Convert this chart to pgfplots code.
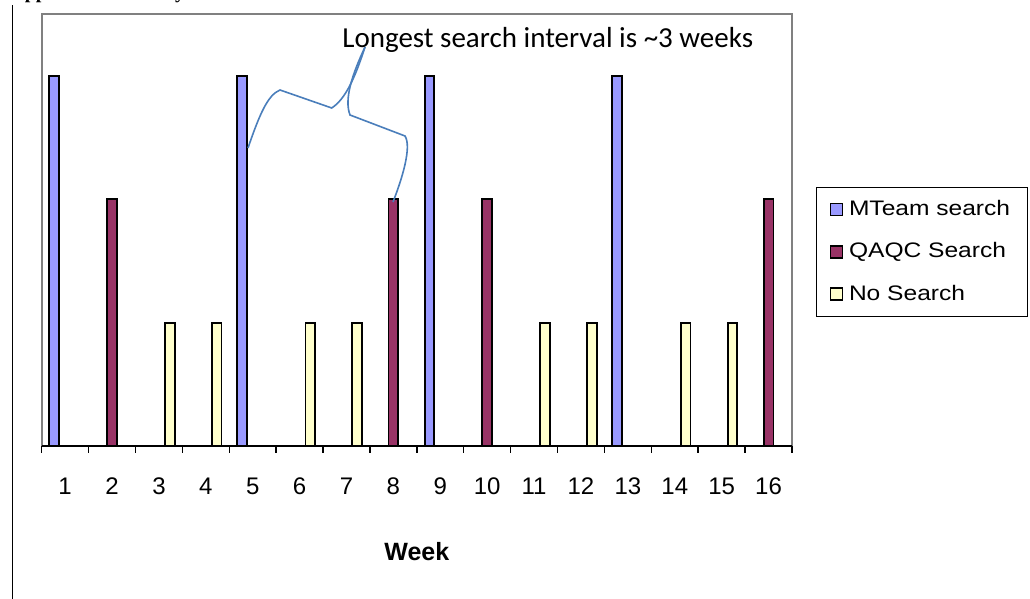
\documentclass[border=0pt]{standalone}
\usepackage{fontspec}
\setmainfont{Liberation Sans}
\newfontfamily\calib{Carlito}
\newfontfamily\serifb{Liberation Serif}
\newfontfamily\legfont[FakeStretch=1.17]{Liberation Sans}
\usepackage{pgfplots}
\pgfplotsset{compat=1.18}
\definecolor{mteam}{HTML}{9999FF}
\definecolor{qaqc}{HTML}{993366}
\definecolor{nosearch}{HTML}{FFFFCC}
\definecolor{callout}{HTML}{4A7EBB}
\definecolor{framegray}{HTML}{808080}
\begin{document}
\begin{tikzpicture}[x=1pt,y=1pt]
\begin{axis}[
  at={(20.85pt,76.5pt)}, anchor=south west,
  width=375.15pt, height=216pt, scale only axis,
  xmin=0.5, xmax=16.5, ymin=0, ymax=3.5,
  ybar, bar width=4.9pt,
  axis line style={draw=none},
  ytick=\empty,
  xtick={1,2,3,4,5,6,7,8,9,10,11,12,13,14,15,16},
  xticklabels={1,2,3,4,5,6,7,8,9,10,11,12,13,14,15,16},
  major tick length=0pt,
  minor xtick={0.5,1.5,2.5,3.5,4.5,5.5,6.5,7.5,8.5,9.5,10.5,11.5,12.5,13.5,14.5,15.5,16.5},
  minor tick length=3.5pt,
  tick align=outside, xtick pos=bottom,
  tick style={black, line width=0.75pt},
  xticklabel style={font=\fontsize{12}{14}\selectfont, anchor=base, yshift=-24.5pt},
  xlabel={Week},
  xlabel style={font=\bfseries\fontsize{12.5}{15}\selectfont, at={(axis description cs:0.5,-0.264)}, anchor=base},
  legend style={at={(1.032,0.5995)}, anchor=north west, draw=black, line width=0.5pt,
    inner xsep=6.5pt, inner ysep=4.5pt, row sep=8pt,
    font=\legfont\fontsize{10.5}{12.6}\selectfont, cells={anchor=west}},
  legend cell align=left,
  legend image code/.code={\draw[#1, line width=0.75pt] (0pt,-3pt) rectangle (6pt,3pt);},
  clip=false,
  /pgf/number format/assume math mode=true,
]
\addplot[fill=mteam, draw=black, line width=0.95pt, bar shift=-5.4pt] coordinates {(1,3) (5,3) (9,3) (13,3)};
\addlegendentry{\hspace{1pt}MTeam search}
\addplot[fill=qaqc, draw=black, line width=0.95pt, bar shift=0pt] coordinates {(2,2) (8,2) (10,2) (16,2)};
\addlegendentry{\hspace{1pt}QAQC Search}
\addplot[fill=nosearch, draw=black, line width=0.95pt, bar shift=5.4pt] coordinates {(3,1) (4,1) (6,1) (7,1) (11,1) (12,1) (14,1) (15,1)};
\addlegendentry{\hspace{1pt}No Search}
\draw[framegray, line width=1pt] (rel axis cs:0,0) -- (rel axis cs:0,1) -- (rel axis cs:1,1) -- (rel axis cs:1,0);
\draw[black, line width=0.9pt] (rel axis cs:0,0) -- (rel axis cs:1,0);
\end{axis}
% callout brace
\draw[callout, line width=0.8pt] (124,225.5) .. controls (130,243) and (134,252) .. (140,254.5) -- (165.85,245.5) .. controls (173,250) and (178,262) .. (182.5,276);
\draw[callout, line width=0.8pt] (182.5,276) .. controls (176,262) and (172,250) .. (175,242) -- (202.5,231.5) .. controls (206,226) and (201,210) .. (196.5,198.5);
\node[anchor=base west, inner sep=0, font=\calib\fontsize{14.5}{17}\selectfont] at (171pt,275.5pt) {Longest search interval is \textasciitilde3 weeks};
% cut-off title and frame line
\node[anchor=base west, inner sep=0, font=\serifb\bfseries\fontsize{10}{12}\selectfont] at (5pt,300pt) {Approach Summary};
\draw[black, line width=0.5pt] (6.25pt,0) -- (6.25pt,297pt);
\pgfresetboundingbox
\path[use as bounding box] (0,0) rectangle (515pt,299.5pt);
\end{tikzpicture}
\end{document}
